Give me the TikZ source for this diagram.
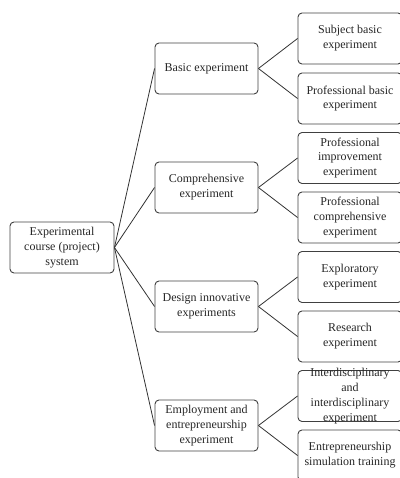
\documentclass[tikz,border=0pt]{standalone}
\usepackage{fontspec}
\setmainfont{Liberation Serif}
\begin{document}
\begin{tikzpicture}[x=1pt,y=-1pt,
  box/.style={draw=black!75, line width=0.9pt, rounded corners=4pt, align=center,
    inner sep=1pt, text=black!85,
    font=\fontsize{12}{14.8}\selectfont},
  midbox/.style={box, minimum width=103pt, minimum height=51pt},
  leafbox/.style={box, minimum width=104pt, minimum height=51pt},
  txt/.style={align=center, inner sep=0pt, text=black!85, font=\fontsize{12}{14.8}\selectfont},
  conn/.style={draw=black!80, line width=0.8pt}]
\useasboundingbox (0,0) rectangle (399,478);
\node[box, minimum width=104pt, minimum height=51pt] (root) at (62,247.5) {Experimental\\course (project)\\system};
\node[midbox] (m1) at (206.5,68.5) {Basic experiment};
\node[midbox] (m2) at (206.5,187.5) {Comprehensive\\experiment};
\node[midbox] (m3) at (206.5,306.5) {Design innovative\\experiments};
\node[midbox] (m4) at (206.5,425.5) {Employment and\\entrepreneurship\\experiment};
\node[leafbox] (l1) at (350,38.5) {Subject basic\\experiment};
\node[leafbox] (l2) at (350,98.5) {Professional basic\\experiment};
\node[leafbox] (l3) at (350,158) {Professional\\improvement\\experiment};
\node[leafbox] (l4) at (350,217.5) {Professional\\comprehensive\\experiment};
\node[leafbox] (l5) at (350,277) {Exploratory\\experiment};
\node[leafbox] (l6) at (350,336.5) {Research\\experiment};
\node[leafbox] (l7) at (350,396) {};
\node[txt] (t7) at (l7.center) {Interdisciplinary\\and\\interdisciplinary\\experiment};
\node[leafbox] (l8) at (350,455.5) {Entrepreneurship\\simulation training};
\foreach \m in {m1,m2,m3,m4}{\draw[conn] (root.east) -- (\m.west);}
\draw[conn] (m1.east) -- (l1.west);
\draw[conn] (m1.east) -- (l2.west);
\draw[conn] (m2.east) -- (l3.west);
\draw[conn] (m2.east) -- (l4.west);
\draw[conn] (m3.east) -- (l5.west);
\draw[conn] (m3.east) -- (l6.west);
\draw[conn] (m4.east) -- (l7.west);
\draw[conn] (m4.east) -- (l8.west);
\end{tikzpicture}
\end{document}
